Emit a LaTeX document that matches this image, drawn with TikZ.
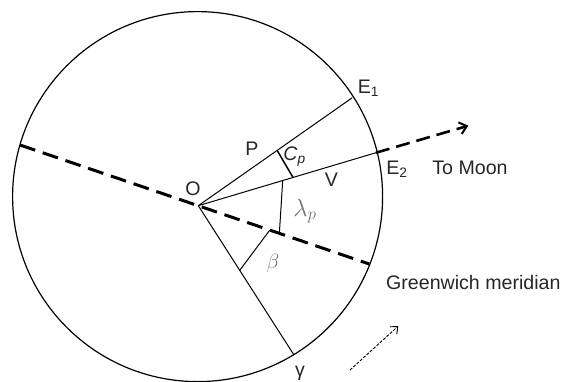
\documentclass[tikz,border=0pt]{standalone}
\usepackage{fontspec}
\setmainfont{Liberation Sans}
\usetikzlibrary{calc,arrows.meta}
\begin{document}
\begin{tikzpicture}[x=1pt,y=-1pt,
  thin line/.style={line width=1pt},
  bigdash/.style={line width=3pt,dash pattern=on 16pt off 8pt},
  lbl/.style={font=\fontsize{19.6}{23}\selectfont,text=black!85,inner sep=0pt},
  graylbl/.style={font=\fontsize{23}{27}\selectfont,text=black!55,inner sep=0pt}]
\useasboundingbox (0,0) rectangle (577,381);
% key points
\coordinate (C) at (197.6,196.6);
\coordinate (O) at (198.3,205.7);
\coordinate (E1) at (352.3,97.7);
\coordinate (E2) at (376,152.7);
\coordinate (tip) at (468.3,125.7);
\coordinate (gL) at (20,145);
\coordinate (gR) at (369.3,264);
\coordinate (gam) at (294,355);
\coordinate (P) at ($(O)!0.512!(E1)$);
\coordinate (Cq) at ($(O)!0.533!(E2)$);
\coordinate (L1) at ($(O)!0.475!(E2)$);
\coordinate (L2) at ($(O)!0.474!(gR)$);
\coordinate (B1) at ($(O)!0.418!(gR)$);
\coordinate (B2) at ($(O)!0.433!(gam)$);
\coordinate (a1) at (350,370);
\coordinate (a2) at (398.3,326);
% circle
\draw[line width=1.2pt] (C) circle (185);
% lines from O
\draw[thin line] (O) -- (E1);
\draw[thin line] (O) -- (E2);
\draw[thin line] (O) -- (gam);
\draw[bigdash] (gL) -- (gR);
\draw[line width=2.6pt,dash pattern=on 14pt off 7pt,-{Straight Barb[length=7pt,width=12pt,line width=2pt]}] (E2) -- (tip);
% angle arcs (chords)
\draw[line width=1.5pt] (P) -- (Cq);
\draw[thin line] (L1) -- (L2);
\draw[thin line] (B1) -- (B2);
% rotation arrow
\draw[line width=0.9pt,dash pattern=on 3pt off 1.5pt,-{Straight Barb[length=6pt,width=10pt,line width=0.9pt]}] (a1) -- (a2);
% labels
\node[lbl] (lO) at (193,188.3) {O};
\node[lbl] (lP) at (252,148.3) {P};
\node[lbl] (lC) at (294.5,156.5) {\itshape C\textsubscript{p}};
\node[lbl] (lV) at (331.3,180) {V};
\node[lbl] (lE1) at (368.5,88) {E\textsubscript{1}};
\node[lbl] (lE2) at (397,169) {E\textsubscript{2}};
\node[lbl] (lM) at (470,167.5) {To Moon};
\node[graylbl] (lL) at (305,211) {$\lambda_p$};
\node[graylbl,font=\fontsize{20}{24}\selectfont] (lB) at (273,263) {$\beta$};
\node[lbl,anchor=base west] (lG) at (386,289.3) {Greenwich meridian};
\node[lbl,anchor=north] (lg) at (300,366) {γ};
\end{tikzpicture}
\end{document}
